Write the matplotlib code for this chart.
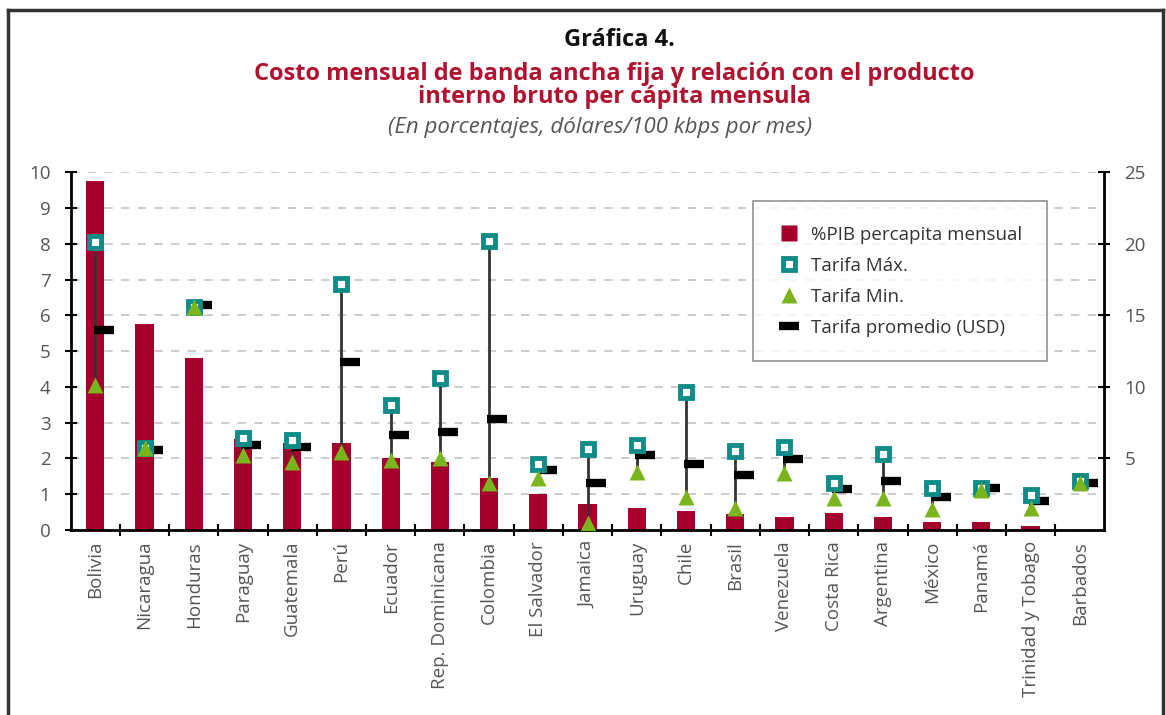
import numpy as np
import matplotlib.pyplot as plt
from matplotlib.lines import Line2D

plt.rcParams['font.family'] = ['Open Sans', 'DejaVu Sans']

paises = ['Bolivia', 'Nicaragua', 'Honduras', 'Paraguay', 'Guatemala', 'Perú',
          'Ecuador', 'Rep. Dominicana', 'Colombia', 'El Salvador', 'Jamaica',
          'Uruguay', 'Chile', 'Brasil', 'Venezuela', 'Costa Rica', 'Argentina',
          'México', 'Panamá', 'Trinidad y Tobago', 'Barbados']
# %PIB per capita mensual (eje izquierdo)
pib = [9.75, 5.75, 4.8, 2.55, 2.42, 2.43, 2.0, 1.9, 1.45, 1.0, 0.73,
       0.62, 0.53, 0.45, 0.37, 0.47, 0.37, 0.22, 0.22, 0.1, 0.0]
# tarifas en USD (eje derecho)
tarifa_max = [20.1, 5.7, 15.6, 6.4, 6.3, 17.2, 8.7, 10.6, 20.2, 4.6, 5.65,
              5.9, 9.65, 5.5, 5.8, 3.3, 5.3, 2.95, 2.9, 2.4, 3.4]
tarifa_min = [10.1, 5.7, 15.6, 5.2, 4.75, 5.45, 4.9, 5.0, 3.3, 3.6, 0.5,
              4.05, 2.3, 1.5, 4.0, 2.25, 2.25, 1.45, 2.8, 1.5, 3.3]
tarifa_prom = [14.0, 5.6, 15.7, 5.9, 5.8, 11.75, 6.6, 6.85, 7.75, 4.2, 3.3,
               5.2, 4.6, 3.8, 4.95, 2.85, 3.4, 2.3, 2.9, 2.0, 3.25]

rojo = '#a5002c'
verde_azul = '#0f8c88'
verde = '#7ab51d'
gris = '#555555'

fig = plt.figure(figsize=(11.66, 7.15), dpi=100)
ax = fig.add_axes([0.0606, 0.259, 0.8866, 0.5])
x = np.arange(len(paises))

ax.bar(x, pib, width=0.37, color=rojo, zorder=2)
ax.set_xlim(-0.5, len(paises) - 0.5)
ax.set_ylim(0, 10)
ax.set_yticks(range(0, 11))
ax.yaxis.grid(True, color='#c4c4c4', lw=1.2, linestyle=(0, (5, 5)), zorder=0)
ax.set_axisbelow(True)

ax.set_xticks(x)
ax.set_xticklabels(paises, rotation=90, color=gris, fontsize=13.5)
ax.set_xticks(x[:-1] + 0.5, minor=True)
ax.tick_params(axis='x', which='major', length=0, pad=8)
ax.tick_params(axis='x', which='minor', direction='inout', length=9, width=1.5)
ax.tick_params(axis='y', direction='inout', length=9, width=1.5,
               labelcolor=gris, labelsize=13.5, pad=10)

for s in ['top', 'right']:
    ax.spines[s].set_visible(False)
for s in ['left', 'bottom']:
    ax.spines[s].set_linewidth(2)

ax2 = ax.twinx()
ax2.set_ylim(0, 25)
ax2.set_yticks([5, 10, 15, 20, 25])
ax2.tick_params(axis='y', direction='inout', length=9, width=1.5,
                labelcolor=gris, labelsize=13.5, pad=10)
ax2.spines['right'].set_linewidth(2)
for s in ['top', 'left', 'bottom']:
    ax2.spines[s].set_visible(False)

ax2.vlines(x, tarifa_min, tarifa_max, color='#333333', lw=2, zorder=2)
ax2.plot(x + 0.17, tarifa_prom, ls='none', marker='_', ms=14.5, mew=6,
         color='black', zorder=3)
ax2.plot(x, tarifa_max, ls='none', marker='s', ms=8, mfc='white',
         mec=verde_azul, mew=3.5, zorder=4)
ax2.plot(x, tarifa_min, ls='none', marker='^', ms=11, color=verde,
         mec='none', zorder=5)

handles = [
    Line2D([], [], ls='none', marker='s', ms=11, color=rojo, mec='none'),
    Line2D([], [], ls='none', marker='s', ms=8, mfc='white', mec=verde_azul, mew=3.5),
    Line2D([], [], ls='none', marker='^', ms=11, color=verde, mec='none'),
    Line2D([], [], ls='none', marker='_', ms=14.5, mew=6, color='black'),
]
labels = ['%PIB percapita mensual', 'Tarifa Máx.', 'Tarifa Min.',
          'Tarifa promedio (USD)']
leg = ax2.legend(handles, labels, loc='upper left',
                 bbox_to_anchor=(0.660, 0.919), fontsize=13.5,
                 frameon=True, fancybox=False, borderpad=1.3,
                 labelspacing=0.7, handletextpad=0.6, handlelength=1.2,
                 borderaxespad=0)
leg.get_frame().set_edgecolor('#777777')
leg.get_frame().set_linewidth(1.2)
for t in leg.get_texts():
    t.set_color('#333333')

fig.text(0.531, 0.944, 'Gráfica 4.', ha='center', va='center',
         fontsize=17, fontweight='bold', color='#111111')
fig.text(0.527, 0.881, 'Costo mensual de banda ancha fija y relación con el producto\n'
         'interno bruto per cápita mensula', ha='center', va='center',
         fontsize=17, fontweight='bold', color='#b0122f', linespacing=0.95)
fig.text(0.515, 0.821, '(En porcentajes, dólares/100 kbps por mes)',
         ha='center', va='center', fontsize=16, style='italic', color=gris)

# marco de la figura
borde = dict(color='#333333', lw=2.5, transform=fig.transFigure)
fig.add_artist(Line2D([0.0065, 0.0065], [0, 0.986], **borde))
fig.add_artist(Line2D([0.0065, 0.9975], [0.986, 0.986], **borde))
fig.add_artist(Line2D([0.9975, 0.9975], [0, 0.986], **borde))

plt.savefig('out.png', dpi=100)
